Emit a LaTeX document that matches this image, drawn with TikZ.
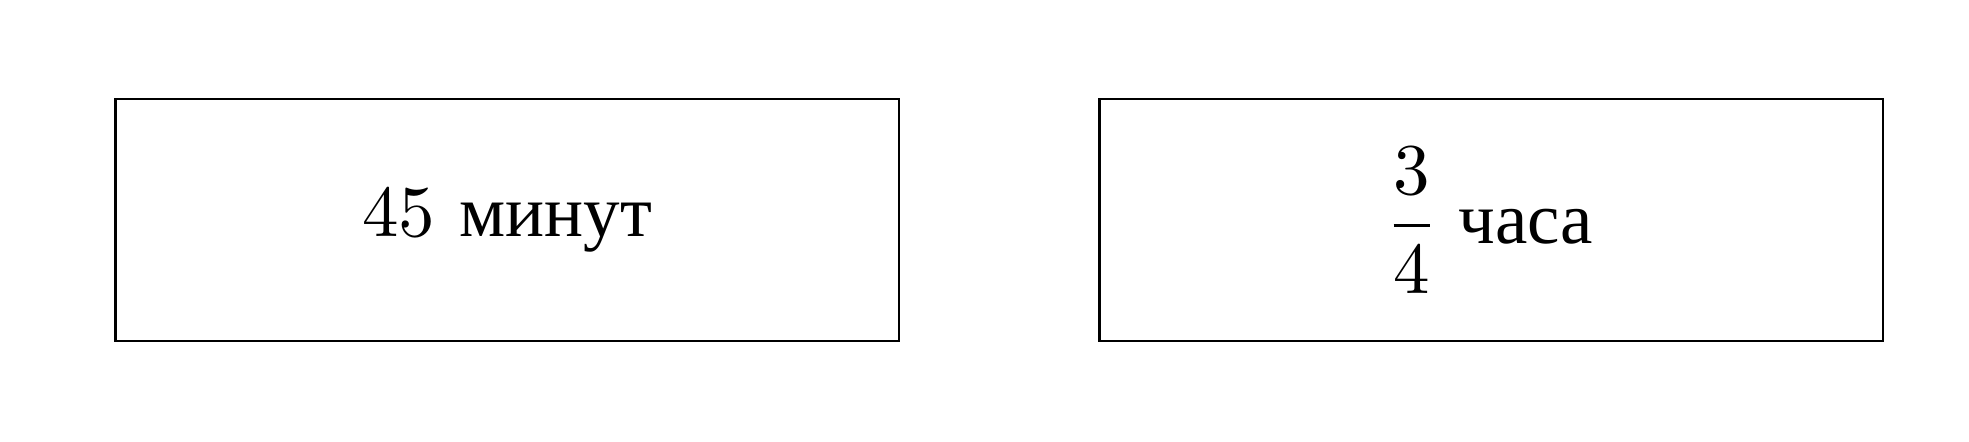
\documentclass[tikz,border=0pt]{standalone}
\usepackage{amsmath}
\usepackage{fontspec}
\setmainfont{lmroman10-regular}[Extension=.otf]
\newfontfamily\cyrfont{Liberation Serif}
\usepackage{tikz}
\usetikzlibrary{positioning}

\begin{document}
\begin{tikzpicture}[x=1cm,y=1cm,
	timebox/.style={rectangle,draw,line width=0.024cm,minimum width=7.835cm,minimum height=2.415cm,font=\fontsize{20.74}{25}\selectfont}]
\useasboundingbox (0,0) rectangle (19.69,4.41);
\node [timebox] (min) at (5.0725,2.21) {45 {\cyrfont минут}};
\node [timebox,right=1.98cm of min] (hour) {$\dfrac{\text{3}}{\text{4}}$ {\cyrfont часа}};
\end{tikzpicture}
\end{document}
